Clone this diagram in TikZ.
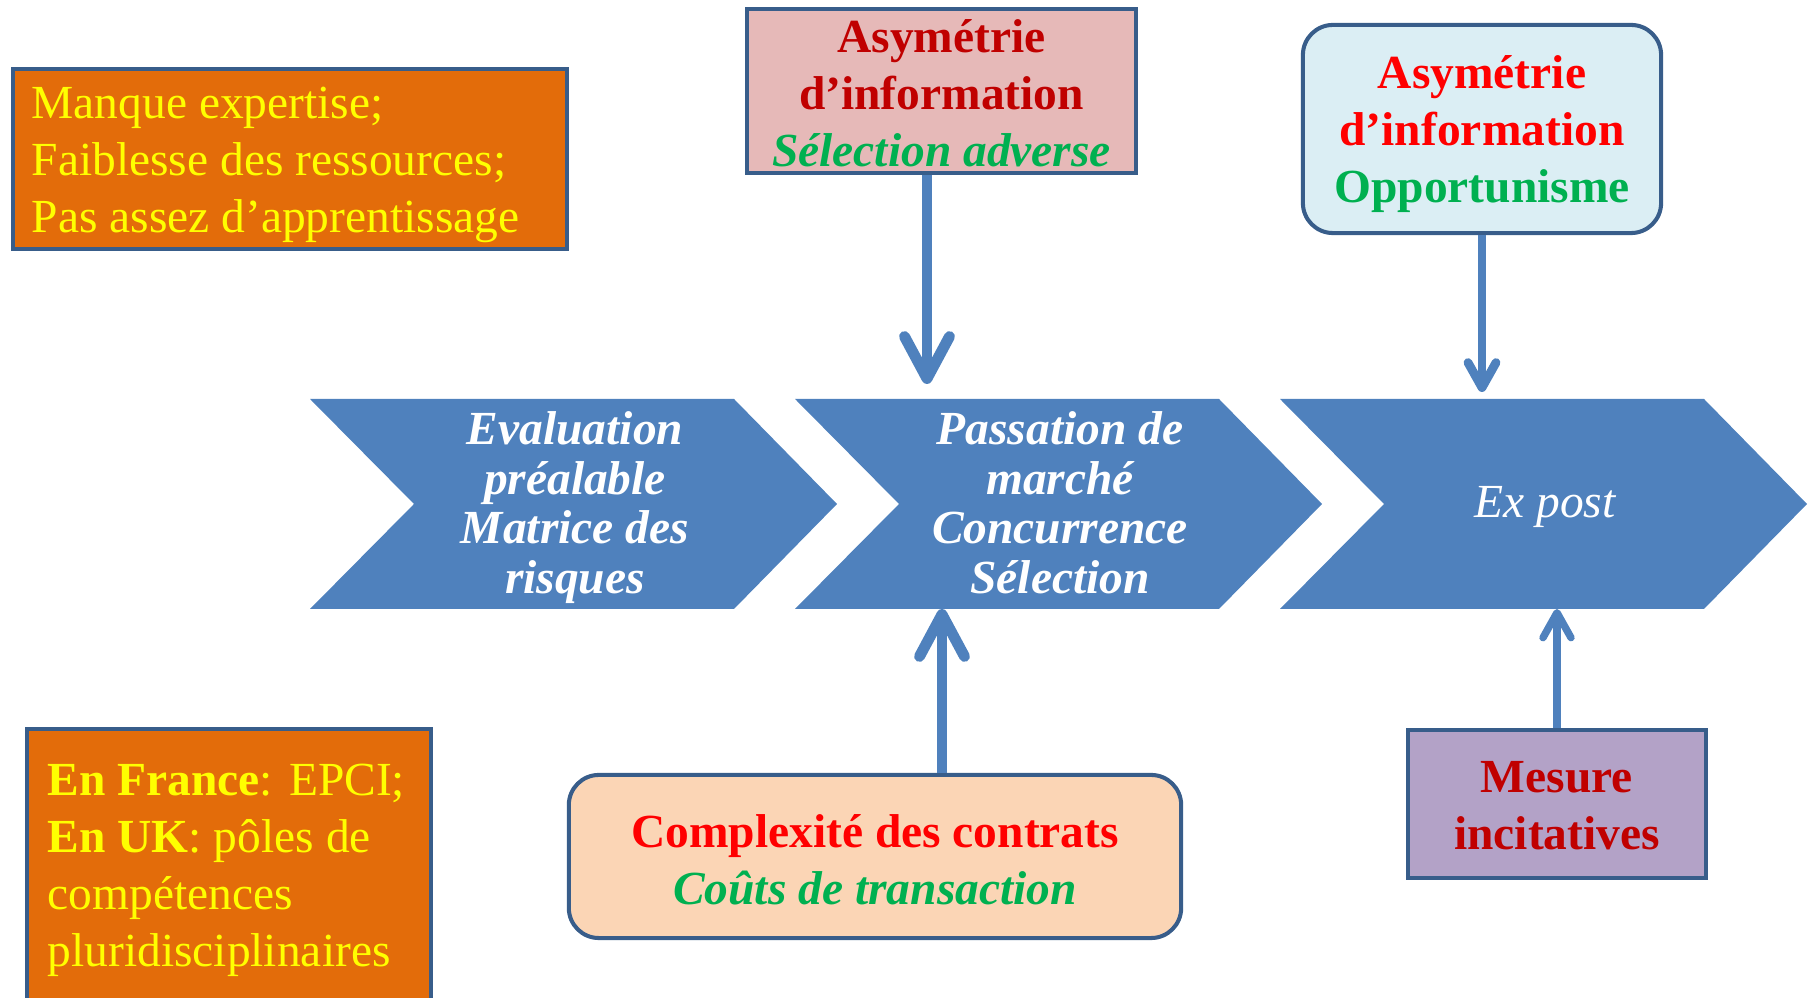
\documentclass[tikz,border=0pt]{standalone}
\usepackage{fontspec}
\setmainfont{Liberation Serif}
\usetikzlibrary{positioning}
\usetikzlibrary{arrows.meta}
\definecolor{chevblue}{RGB}{79,129,189}
\definecolor{boxline}{RGB}{56,93,138}
\definecolor{orangefill}{RGB}{227,108,10}
\definecolor{pinkfill}{RGB}{230,185,184}
\definecolor{icefill}{RGB}{219,238,244}
\definecolor{peachfill}{RGB}{251,213,181}
\definecolor{lilacfill}{RGB}{179,162,199}
\definecolor{darkred}{RGB}{192,0,0}
\definecolor{brightred}{RGB}{255,0,0}
\definecolor{leafgreen}{RGB}{0,176,80}
\definecolor{sunyellow}{RGB}{255,255,0}
\tikzstyle{box}=[rectangle,draw=boxline,line width=1.15pt,inner sep=0pt]
\tikzstyle{roundbox}=[box,rounded corners=0.3cm]
\tikzstyle{boxtext}=[inner sep=0pt,font=\fontsize{13.5}{16.2}\selectfont]
\tikzstyle{boldtext}=[inner sep=0pt,font=\fontsize{13.5}{16.2}\selectfont\bfseries]
\tikzstyle{chevtext}=[inner sep=0pt,text=white,align=center,font=\fontsize{13.5}{14.1}\selectfont\bfseries\itshape]
\tikzstyle{chevplain}=[inner sep=0pt,text=white,font=\fontsize{13.5}{14.1}\selectfont\itshape]
\tikzstyle{bigpipe}=[draw=chevblue,line width=3.1pt,-{Straight Barb[round,length=4.2mm,width=4.5mm]}]
\tikzstyle{smallpipe}=[draw=chevblue,line width=2.5pt,-{Straight Barb[round,length=2.5mm,width=2.8mm]}]

\begin{document}
\begin{tikzpicture}[x=0.01cm,y=-0.01cm]

    \clip (0,0) rectangle (1814,998);

    % Draw the three chevrons of the process
    \foreach \x in {310,795,1280}
        \fill[chevblue] (\x,399) -- ++(424,0) -- ++(103,105) -- ++(-103,105) -- ++(-424,0) -- ++(104,-105) -- cycle;

    % Texts of the chevrons
    \foreach \pos/\name/\label in {{(575,411)/evalt/{Evaluation\\préalable\\Matrice des\\risques}}, {(1060,411)/passt/{Passation de\\marché\\Concurrence\\Sélection}}}
        \node[chevtext, anchor=north] (\name) at \pos {\label};
    \node[chevplain, anchor=base] (postt) at (1545,518) {Ex post};

    % Then we draw the boxes
    \node[box, fill=orangefill, minimum width=5.54cm, minimum height=1.80cm] (expert) at (290,159) {};
    \node[box, fill=pinkfill, minimum width=3.89cm, minimum height=1.64cm] (asymsel) at (941.5,91) {};
    \node[roundbox, fill=icefill, minimum width=3.58cm, minimum height=2.08cm] (asymopp) at (1482,129) {};
    \node[box, fill=orangefill, minimum width=4.04cm, minimum height=2.81cm] (france) at (229,869.5) {};
    \node[roundbox, fill=peachfill, minimum width=6.12cm, minimum height=1.63cm] (contrats) at (875,856.5) {};
    \node[box, fill=lilacfill, minimum width=2.98cm, minimum height=1.48cm] (mesure) at (1557,804) {};

    % Texts of the boxes
    \node[boxtext, text=sunyellow, align=left, anchor=north west] (expertt) at (31,86)
        {Manque expertise;\\Faiblesse des ressources;\\Pas assez d’apprentissage};
    \node[boldtext, text=darkred, align=center, anchor=north] (asymselt) at (941.5,19)
        {Asymétrie\\d’information\\{\color{leafgreen}\itshape Sélection adverse}};
    \node[boldtext, text=brightred, align=center, anchor=north] (asymoppt) at (1482,55)
        {Asymétrie\\d’information\\{\color{leafgreen}Opportunisme}};
    \node[boxtext, text=sunyellow, align=left, anchor=north west] (francet) at (47,763)
        {\textbf{En France}: EPCI;\\\textbf{En UK}: pôles de\\compétences\\pluridisciplinaires};
    \node[boldtext, text=brightred, align=center, anchor=north] (contratst) at (875,814)
        {Complexité des contrats\\{\color{leafgreen}\itshape Coûts de transaction}};
    \node[boldtext, text=darkred, align=center, anchor=north] (mesuret) at (1557,761)
        {Mesure\\incitatives};

    % Connect the boxes with the chevrons
    \coordinate (tipsel) at (927,384);
    \coordinate (tipopp) at (1482,392);
    \coordinate (tipcon) at (942,609);
    \coordinate (tipmes) at (1557,609);
    \draw[bigpipe] (asymsel.south -| tipsel) -- (tipsel);
    \draw[smallpipe] (asymopp.south) -- (tipopp);
    \draw[bigpipe] (contrats.north -| tipcon) -- (tipcon);
    \draw[smallpipe, line width=2.1pt] (mesure.north) -- (tipmes);

\end{tikzpicture}
\end{document}
